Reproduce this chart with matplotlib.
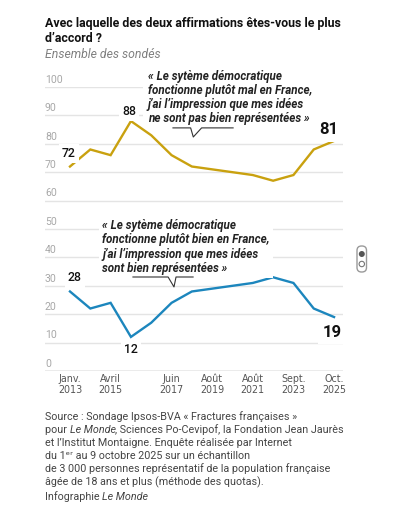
import matplotlib.pyplot as plt
from matplotlib import font_manager as fm
from matplotlib.patches import FancyBboxPatch, Circle, Rectangle
from matplotlib.transforms import IdentityTransform

#### Data

surveys = list(range(14))
mal = [72, 78, 76, 88, 83, 76, 72, 71, 70, 69, 67, 69, 78, 81]
bien = [28, 22, 24, 12, 17, 24, 28, 29, 30, 31, 33, 31, 22, 19]
tick_idx = [0, 2, 5, 7, 9, 11, 13]
tick_labels = ["Janv.\n2013", "Avril\n2015", "Juin\n2017", "Août\n2019",
               "Août\n2021", "Sept.\n2023", "Oct.\n2025"]
y_ticks = [0, 10, 20, 30, 40, 50, 60, 70, 80, 90, 100]

GOLD = "#c9a10f"
BLUE = "#1c86bd"
W, H = 406, 531

plt.rcParams["font.family"] = ["Roboto", "DejaVu Sans"]

# a narrow regular face for the date ticks
narrow = None
for f in fm.fontManager.ttflist:
    if f.name == "Liberation Sans Narrow" and f.style == "normal" and f.weight in (400, "normal", "regular"):
        narrow = f
        break
if narrow is None:
    for f in fm.fontManager.ttflist:
        if "Condensed" in f.fname and f.name == "DejaVu Sans" and f.style == "normal" \
                and f.weight in (400, "normal", "regular", "book"):
            narrow = f
            break

def fx(px):
    return px / W

def fy(py):
    return 1 - py / H

fig = plt.figure(figsize=(W / 100, H / 100), dpi=100)
ax = fig.add_axes([fx(45), fy(371), (343 - 45) / W, (371 - 87) / H])
ax.set_xlim(-1.23, 13.44)
ax.set_ylim(0, 100)
for s in ax.spines.values():
    s.set_visible(False)
ax.set_yticks([])
ax.set_xticks(tick_idx, tick_labels)
ax.tick_params(axis="x", length=0, pad=2)
for lab in ax.get_xticklabels():
    if narrow is not None:
        lab.set_fontproperties(fm.FontProperties(fname=narrow.fname, size=7.7))
    else:
        lab.set_fontsize(7)
    lab.set_color("#555555")
    lab.set_linespacing(1.1)

# grid + y labels
for v in y_ticks:
    ax.axhline(v, color="#9a9a9a" if v == 0 else "#e4e4e4", lw=1, zorder=0)
    ax.text(0, v + 0.8, str(v), transform=ax.get_yaxis_transform(), ha="left",
            va="bottom", fontsize=7.6, color="#a8a8a8")

# white area behind the top quote
ax.add_patch(Rectangle((3.59, 87.5), 13.44 - 3.59, 20, fc="white", ec="none",
                       zorder=1, clip_on=False))

ax.plot(surveys, mal, color=GOLD, lw=1.7, zorder=3, clip_on=False,
        solid_joinstyle="miter")
ax.plot(surveys, bien, color=BLUE, lw=1.7, zorder=3, clip_on=False,
        solid_joinstyle="miter")

# value labels
def val(i, series, dx, dy, big=False):
    ax.annotate(str(series[i]), (surveys[i], series[i]), xytext=(dx, dy),
                textcoords="offset pixels", ha="center", va="center",
                fontsize=12 if big else 8.8,
                fontweight="bold" if big else "medium", color="#111111",
                zorder=5, bbox=dict(boxstyle="square,pad=0.25", fc="white", ec="none"))

val(0, mal, -1, 13)
val(3, mal, -1.5, 10)
val(13, mal, -5, 11, big=True)
val(0, bien, 5, 13.5)
val(3, bien, 0, -12.5)
val(13, bien, -2, -15, big=True)

# quotes
ax.text(3.84, 106, "« Le sytème démocratique\nfonctionne plutôt mal en France,\n"
        "j’ai l’impression que mes idées\nne sont pas bien représentées »",
        ha="left", va="top", fontsize=8.4, fontweight="bold", fontstyle="italic",
        color="#222222", linespacing=1.1, zorder=4, clip_on=False)
ax.plot([5.07, 5.94, 6.07, 6.48, 8.03], [85.6, 85.6, 82.4, 85.6, 85.6],
        color="#333333", lw=0.8, zorder=4, clip_on=False)

ax.text(1.58, 53.6, "« Le sytème démocratique\nfonctionne plutôt bien en France,\n"
        "j’ai l’impression que mes idées\nsont bien représentées »",
        ha="left", va="top", fontsize=8.4, fontweight="bold", fontstyle="italic",
        color="#222222", linespacing=1.14, zorder=4,
        bbox=dict(boxstyle="square,pad=0.3", fc="white", ec="none"))
ax.plot([3.1, 4.83, 5.12, 5.22, 6.06], [33.1, 33.1, 29.6, 33.1, 33.1],
        color="#333333", lw=0.8, zorder=4, clip_on=False)

# titles
fig.text(fx(45), fy(17), "Avec laquelle des deux affirmations êtes-vous le plus\nd’accord ?",
         ha="left", va="top", fontsize=8.9, fontweight="bold", color="#111111",
         linespacing=1.2)
fig.text(fx(45), fy(54), "Ensemble des sondés", ha="left", va="center",
         fontsize=8.8, fontstyle="italic", color="#808080")

# source, with italic bits
renderer = fig.canvas.get_renderer()

def rich(py, parts):
    x = fx(45)
    for txt, style in parts:
        t = fig.text(x, fy(py), txt, ha="left", va="center", fontsize=7.75,
                     fontstyle=style, color="#444444",
                     family=["Roboto", "DejaVu Sans"])
        x += t.get_window_extent(renderer).width / W

rich(417, [("Source : Sondage Ipsos-BVA « Fractures françaises »", "normal")])
rich(430, [("pour ", "normal"), ("Le Monde", "italic"),
           (", Sciences Po-Cevipof, la Fondation Jean Jaurès", "normal")])
rich(443, [("et l’Institut Montaigne. Enquête réalisée par Internet", "normal")])
rich(456, [("du 1ᵉʳ au 9 octobre 2025 sur un échantillon", "normal")])
rich(469, [("de 3 000 personnes représentatif de la population française", "normal")])
rich(482, [("âgée de 18 ans et plus (méthode des quotas).", "normal")])
rich(497, [("Infographie ", "normal"), ("Le Monde", "italic")])

# little scroll widget on the right
fig.add_artist(FancyBboxPatch((357, H - 272), 9.5, 26, boxstyle="round,pad=0,rounding_size=4.5",
                              fc="white", ec="#9a9a9a", lw=1, transform=IdentityTransform()))
fig.add_artist(Circle((361.8, H - 254), 3, fc="#555555", ec="none",
                      transform=IdentityTransform()))
fig.add_artist(Circle((361.8, H - 264), 2.7, fc="white", ec="#777777", lw=0.8,
                      transform=IdentityTransform()))

fig.savefig("out.png", dpi=100, facecolor="white")
